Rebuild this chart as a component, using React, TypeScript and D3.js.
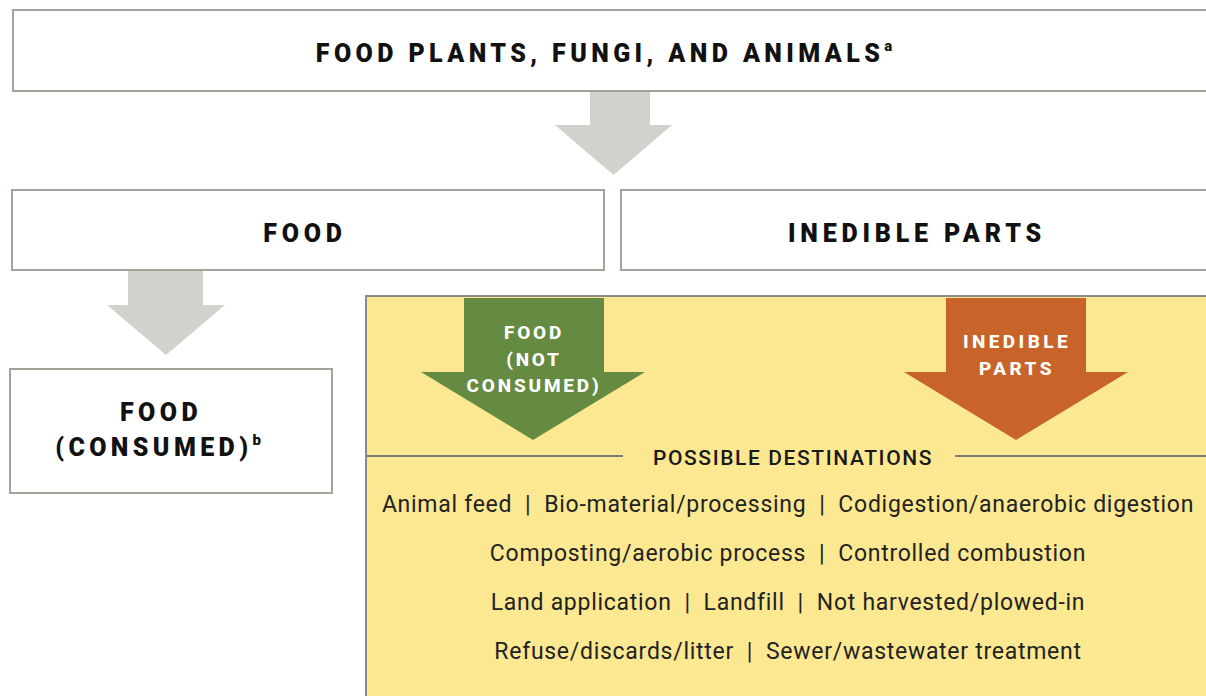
import React from 'react'
import * as d3 from 'd3'

const topLabel = 'FOOD PLANTS, FUNGI, AND ANIMALS'
const splitLabels = ['FOOD', 'INEDIBLE PARTS']
const consumedLines = ['FOOD', '(CONSUMED)']
const notConsumedLines = ['FOOD', '(NOT', 'CONSUMED)']
const inedibleLines = ['INEDIBLE', 'PARTS']
const destTitle = 'POSSIBLE DESTINATIONS'
const destinations = [
  ['Animal feed', 'Bio-material/processing', 'Codigestion/anaerobic digestion'],
  ['Composting/aerobic process', 'Controlled combustion'],
  ['Land application', 'Landfill', 'Not harvested/plowed-in'],
  ['Refuse/discards/litter', 'Sewer/wastewater treatment'],
]

const W = 1206
const H = 696
const HEAD = "'Roboto', 'DejaVu Sans', sans-serif"
const BODY = "'Roboto', 'Noto Sans', sans-serif"

const boxStroke = '#a3a399'
const grayArrow = '#d1d2cb'
const green = '#658a41'
const orange = '#c8632a'
const yellow = '#fbe891'

// arrow outline: shaft [sl, sr], from top to neck, head [hl, hr] to tip
function arrowPath(sl: number, sr: number, top: number, neck: number, hl: number, hr: number, tip: number) {
  const line = d3.line()
  const cx = (hl + hr) / 2
  return line([[sl, top], [sr, top], [sr, neck], [hr, neck], [cx, tip], [hl, neck], [sl, neck]]) + 'Z'
}

export default function App() {
  const lineY = d3.scaleLinear().domain([0, 1]).range([512, 561])
  return (
    <svg width={W} height={H} style={{ position: 'absolute', left: 0, top: 0, background: '#fff' }}>
      {/* top box */}
      <rect x={13} y={10} width={1220} height={81} fill="#fff" stroke={boxStroke} strokeWidth={2} />
      <text x={604} y={62} textAnchor="middle" fontFamily={HEAD} fontWeight={900} fontSize={25}
        letterSpacing={4.4} fill="#111">
        {topLabel}
        <tspan dy={-11} fontSize={15} letterSpacing={0}>a</tspan>
      </text>
      <path d={arrowPath(590, 650, 92, 125, 555, 672, 175)} fill={grayArrow} />

      {/* food / inedible */}
      <rect x={12} y={190} width={592} height={80} fill="#fff" stroke={boxStroke} strokeWidth={2} />
      <rect x={621} y={190} width={610} height={80} fill="#fff" stroke={boxStroke} strokeWidth={2} />
      {splitLabels.map((s, i) => (
        <text key={s} x={i === 0 ? 305 : 917} y={242} textAnchor="middle" fontFamily={HEAD} fontWeight={900}
          fontSize={25} letterSpacing={4.8} fill="#111">{s}</text>
      ))}
      <path d={arrowPath(128, 203, 271, 305, 107, 225, 355)} fill={grayArrow} />

      {/* consumed */}
      <rect x={10} y={369} width={322} height={124} fill="#fff" stroke={boxStroke} strokeWidth={2} />
      <text textAnchor="middle" fontFamily={HEAD} fontWeight={900} fontSize={25} letterSpacing={4.4} fill="#111">
        <tspan x={161} y={421}>{consumedLines[0]}</tspan>
        <tspan x={158} y={456}>{consumedLines[1]}</tspan>
        <tspan dy={-11} fontSize={15} letterSpacing={0}>b</tspan>
      </text>

      {/* yellow panel */}
      <rect x={366} y={296} width={880} height={420} fill={yellow} stroke="#8a8a86" strokeWidth={2} />
      <path d={arrowPath(464, 604, 298, 372, 421, 645, 440)} fill={green} />
      <text textAnchor="middle" fontFamily={HEAD} fontWeight={800} fontSize={19} letterSpacing={2.8} fill="#fff">
        {notConsumedLines.map((s, i) => (
          <tspan key={s} x={534} y={339 + i * 26.5}>{s}</tspan>
        ))}
      </text>
      <path d={arrowPath(946, 1086, 298, 372, 904, 1128, 440)} fill={orange} />
      <text textAnchor="middle" fontFamily={HEAD} fontWeight={800} fontSize={19} letterSpacing={3.4} fill="#fff">
        {inedibleLines.map((s, i) => (
          <tspan key={s} x={1017} y={348 + i * 27}>{s}</tspan>
        ))}
      </text>

      <line x1={366} x2={623} y1={456} y2={456} stroke="#7d7d78" strokeWidth={2} />
      <line x1={955} x2={1206} y1={456} y2={456} stroke="#7d7d78" strokeWidth={2} />
      <text x={793} y={465} textAnchor="middle" fontFamily={HEAD} fontWeight={500} fontSize={21}
        letterSpacing={1.6} fill="#1a1a1a">{destTitle}</text>

      {destinations.map((row, i) => (
        <text key={i} x={788} y={lineY(i)} textAnchor="middle" fontFamily={BODY} fontSize={23}
          letterSpacing={0.72} fill="#222" style={{ whiteSpace: 'pre' }}>
          {row.join('  |  ')}
        </text>
      ))}
    </svg>
  )
}
